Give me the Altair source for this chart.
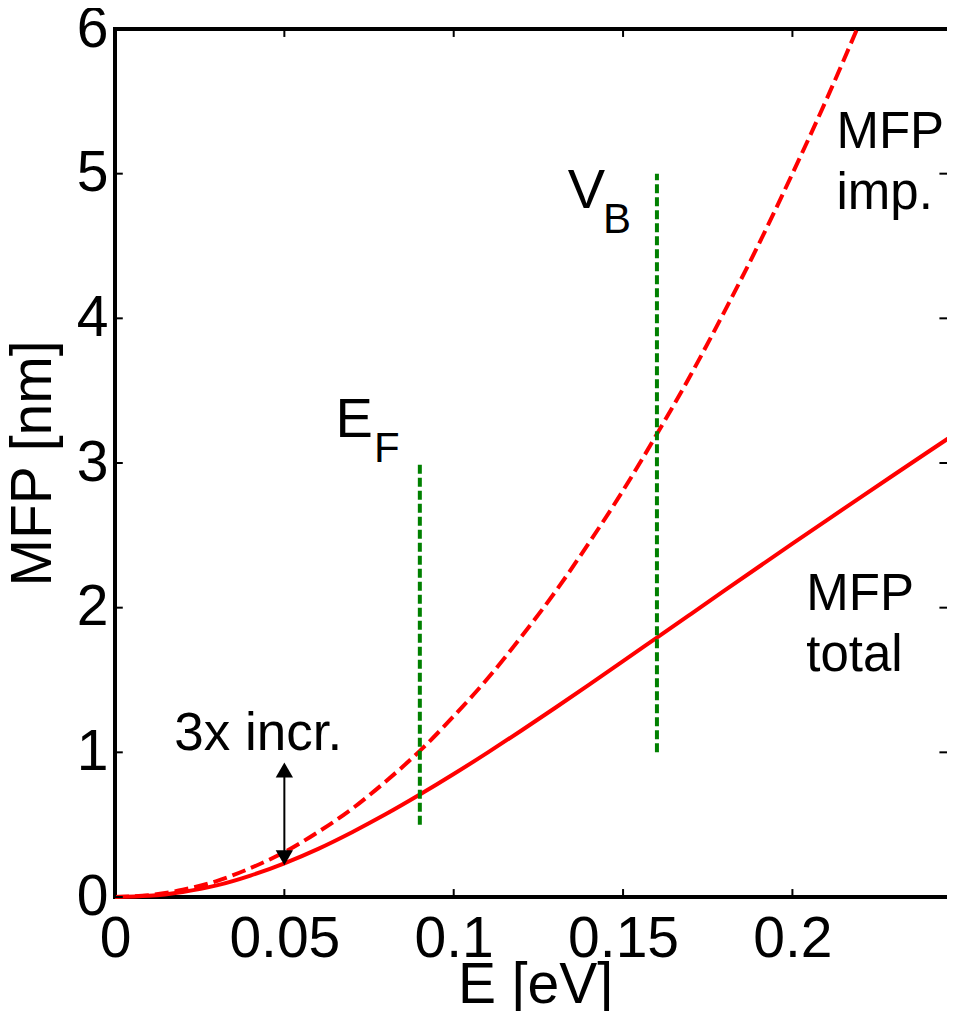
import altair as alt
import pandas as pd

# ---- data ----
E_total = [0, 0.01, 0.02, 0.03, 0.04, 0.05, 0.06, 0.07, 0.08, 0.09, 0.10, 0.11, 0.12,
           0.13, 0.14, 0.15, 0.16, 0.17, 0.18, 0.19, 0.20, 0.21, 0.22, 0.23, 0.24, 0.248]
MFP_total = [0, 0.008, 0.035, 0.080, 0.148, 0.233, 0.333, 0.448, 0.573, 0.708, 0.850,
             0.998, 1.151, 1.308, 1.468, 1.630, 1.793, 1.956, 2.119, 2.281, 2.442,
             2.602, 2.761, 2.919, 3.076, 3.201]

E_imp = [0, 0.01, 0.02, 0.03, 0.04, 0.05, 0.06, 0.07, 0.08, 0.09, 0.10, 0.11, 0.12,
         0.13, 0.14, 0.15, 0.16, 0.17, 0.18, 0.19, 0.20, 0.21, 0.22]
MFP_imp = [0, 0.0125, 0.05, 0.11, 0.20, 0.31, 0.45, 0.61, 0.80, 1.01, 1.25, 1.51, 1.80,
           2.11, 2.45, 2.81, 3.20, 3.61, 4.05, 4.51, 5.00, 5.51, 6.05]

marker_E = [0.09, 0.16]
marker_lo = [0.5, 1.0]
marker_hi = [3.0, 5.0]

x_ticks = [0, 0.05, 0.1, 0.15, 0.2]
y_ticks = [0, 1, 2, 3, 4, 5, 6]

X_MAX = 0.248
Y_MAX = 6

FONT = "Liberation Sans"

xs = alt.Scale(domain=[0, X_MAX], nice=False, zero=False)
ys = alt.Scale(domain=[0, Y_MAX], nice=False, zero=False)

df_total = pd.DataFrame({"E": E_total, "MFP": MFP_total})
df_imp = pd.DataFrame({"E": E_imp, "MFP": MFP_imp})
df_mark = pd.DataFrame({"E": marker_E, "lo": marker_lo, "hi": marker_hi})

base_x = alt.X("E:Q", scale=xs,
               axis=alt.Axis(values=x_ticks, format="~g", title="E [eV]",
                             labelFlush=False, labelOverlap=False,
                             ticks=False, domain=False, grid=False,
                             labelPadding=14, titleBaseline="alphabetic", titleY=105))
base_y = alt.Y("MFP:Q", scale=ys,
               axis=alt.Axis(values=y_ticks, format="~g", title="MFP [nm]",
                             labelOverlap=False, ticks=False, domain=False, grid=False,
                             labelPadding=7, titlePadding=14))

total_line = alt.Chart(df_total).mark_line(color="#ff0000", strokeWidth=4,
                                           interpolate="monotone").encode(
    x=base_x, y=base_y)

imp_line = alt.Chart(df_imp).mark_line(color="#ff0000", strokeWidth=4,
                                       strokeDash=[14, 6], clip=True,
                                       interpolate="monotone").encode(
    x=alt.X("E:Q", scale=xs), y=alt.Y("MFP:Q", scale=ys))

markers = alt.Chart(df_mark).mark_rule(color="#008000", strokeWidth=4,
                                       strokeDash=[9, 4]).encode(
    x=alt.X("E:Q", scale=xs), y=alt.Y("lo:Q", scale=ys), y2="hi:Q")

# inward ticks (bottom, top, left, right)
df_xt = pd.DataFrame({"v": x_ticks})
df_yt = pd.DataFrame({"v": y_ticks})
tick_bottom = alt.Chart(df_xt).mark_rule(color="black", strokeWidth=2).encode(
    x=alt.X("v:Q", scale=xs), y=alt.datum(0, scale=ys), y2=alt.datum(0.055))
tick_top = alt.Chart(df_xt).mark_rule(color="black", strokeWidth=2).encode(
    x=alt.X("v:Q", scale=xs), y=alt.datum(Y_MAX, scale=ys), y2=alt.datum(Y_MAX - 0.055))
tick_left = alt.Chart(df_yt).mark_rule(color="black", strokeWidth=2).encode(
    y=alt.Y("v:Q", scale=ys), x=alt.datum(0, scale=xs), x2=alt.datum(0.0023))
tick_right = alt.Chart(df_yt).mark_rule(color="black", strokeWidth=2).encode(
    y=alt.Y("v:Q", scale=ys), x=alt.datum(X_MAX - 0.0023, scale=xs), x2=alt.datum(X_MAX - 0.0046))

# annotation arrow "3x incr."
arrow_x = [0.05]
arrow_lo = [0.272]
arrow_hi = [0.878]
df_arrow = pd.DataFrame({"E": arrow_x, "lo": arrow_lo, "hi": arrow_hi})
arrow_shaft = alt.Chart(df_arrow).mark_rule(color="black", strokeWidth=2).encode(
    x=alt.X("E:Q", scale=xs), y=alt.Y("lo:Q", scale=ys), y2="hi:Q")
arrow_up = alt.Chart(df_arrow).mark_point(shape="triangle-up", size=300, filled=True,
                                          color="black", opacity=1).encode(
    x=alt.X("E:Q", scale=xs), y=alt.Y("hi:Q", scale=ys))
arrow_down = alt.Chart(df_arrow).mark_point(shape="triangle-down", size=300, filled=True,
                                            color="black", opacity=1).encode(
    x=alt.X("E:Q", scale=xs), y=alt.Y("lo:Q", scale=ys))

# text annotations
texts = [
    {"E": 0.0423, "y": 1.016, "t": ["3x incr."], "size": 53, "align": "center"},
    {"E": 0.213, "y": 5.18, "t": ["MFP", "imp."], "size": 51, "align": "left"},
    {"E": 0.2041, "y": 1.983, "t": ["MFP", "total"], "size": 51, "align": "left"},
    {"E": 0.0651, "y": 3.179, "t": ["E"], "size": 56, "align": "left"},
    {"E": 0.0765, "y": 3.006, "t": ["F"], "size": 42, "align": "left"},
    {"E": 0.1337, "y": 4.76, "t": ["V"], "size": 56, "align": "left"},
    {"E": 0.1441, "y": 4.589, "t": ["B"], "size": 42, "align": "left"},
]
text_layers = []
for t in texts:
    d = pd.DataFrame({"E": [t["E"]], "y": [t["y"]]})
    text_layers.append(
        alt.Chart(d).mark_text(text=t["t"], fontSize=t["size"], font=FONT,
                               align=t["align"], baseline="alphabetic",
                               lineHeight=61, color="black").encode(
            x=alt.X("E:Q", scale=xs), y=alt.Y("y:Q", scale=ys)))

chart = alt.layer(
    total_line, imp_line, markers,
    tick_bottom, tick_top, tick_left, tick_right,
    arrow_shaft, arrow_up, arrow_down,
    *text_layers
).properties(
    width=840, height=868,
    autosize=alt.AutoSizeParams(type="none"),
    padding={"left": 107, "top": 21, "right": -8, "bottom": 114},
).configure_view(
    stroke="black", strokeWidth=4
).configure_axis(
    labelFont=FONT, titleFont=FONT, labelFontSize=57, titleFontSize=57,
    titleFontWeight="normal", labelColor="black", titleColor="black"
)

chart.save("out.html", embed_options={"renderer": "svg", "actions": False})
